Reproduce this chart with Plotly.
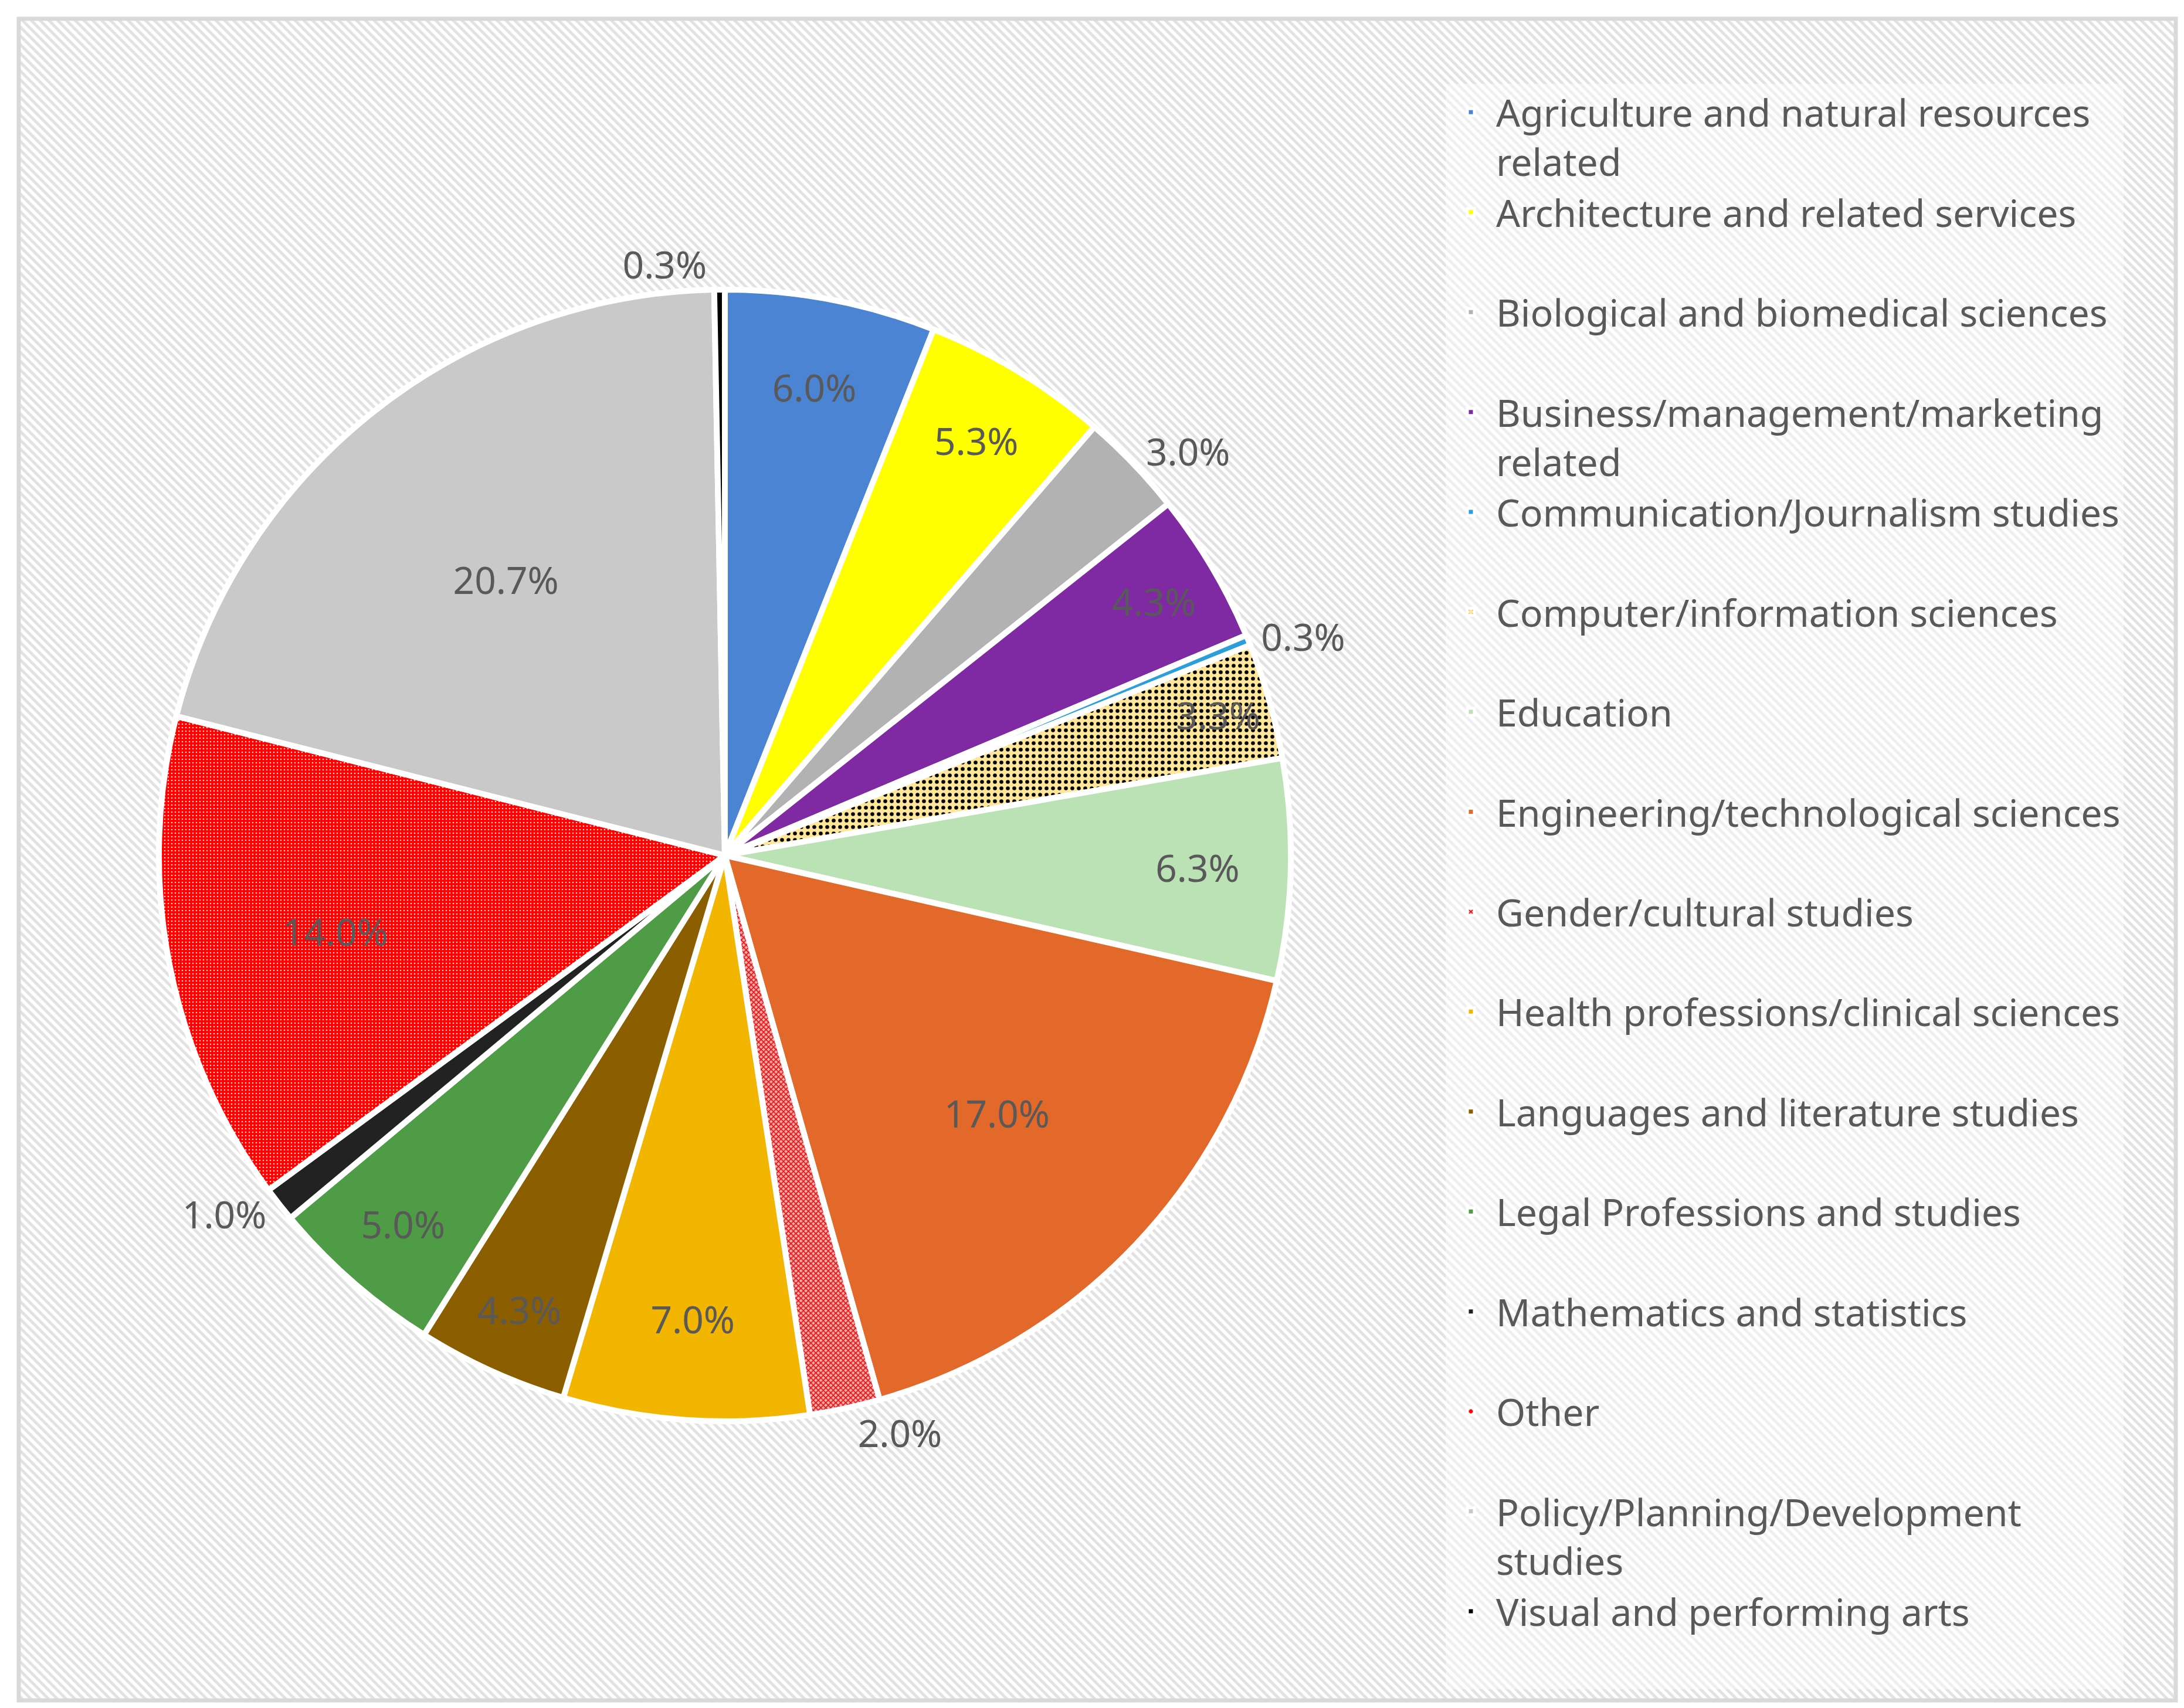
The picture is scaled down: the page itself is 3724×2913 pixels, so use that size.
import base64
import plotly.graph_objects as go

# share of respondents by field of study (percent)
fields = [
    "Agriculture and natural resources<br>related",
    "Architecture and related services",
    "Biological and biomedical sciences",
    "Business/management/marketing<br>related",
    "Communication/Journalism studies",
    "Computer/information sciences",
    "Education",
    "Engineering/technological sciences",
    "Gender/cultural studies",
    "Health professions/clinical sciences",
    "Languages and literature studies",
    "Legal Professions and studies",
    "Mathematics and statistics",
    "Other",
    "Policy/Planning/Development<br>studies",
    "Visual and performing arts",
]
shares = [6.0, 5.3, 3.0, 4.3, 0.3, 3.3, 6.3, 17.0, 2.0, 7.0, 4.3, 5.0, 1.0, 14.0, 20.7, 0.3]

colors = ["#4a84d2", "#ffff00", "#b2b2b2", "#7f2aa3", "#2a9fdc", "#ffe699",
          "#bbe2b5", "#e2692a", "#ff4040", "#f2b600", "#8b5e00", "#4f9c47",
          "#222222", "#ff0000", "#c9c9c9", "#000000"]

W, H = 3724, 2913
GREY = "#595959"
FONT = "Noto Sans, Open Sans, sans-serif"

# every legend entry gets two lines so that the spacing is even, like Excel
legend_names = [f if "<br>" in f else f + "<br>\u00a0" for f in fields]

# which slices get their label outside
text_pos = ["inside", "inside", "outside", "inside", "outside", "inside", "inside",
            "inside", "outside", "inside", "inside", "inside", "outside", "inside",
            "inside", "outside"]

pat_shape = [""] * 16
pat_fg = ["black"] * 16
pat_bg = list(colors)
pat_size = [8] * 16
pat_sol = [0.3] * 16
# computer: black dots on pale yellow
pat_shape[5], pat_fg[5], pat_bg[5], pat_size[5], pat_sol[5] = ".", "black", "#ffe699", 11, 0.28
# gender: fine red check
pat_shape[8], pat_fg[8], pat_bg[8], pat_size[8], pat_sol[8] = "x", "#e01010", "#ffb0b0", 6, 0.5
# other: tiny white dots on red
pat_shape[13], pat_fg[13], pat_bg[13], pat_size[13], pat_sol[13] = ".", "#ffd0d0", "#ff0000", 6, 0.15

fig = go.Figure()
fig.add_trace(go.Pie(
    labels=legend_names,
    values=shares,
    sort=False,
    direction="clockwise",
    rotation=0,
    texttemplate="%{value:.1f}%",
    textposition=text_pos,
    insidetextorientation="horizontal",
    insidetextfont=dict(family=FONT, size=64, color=GREY),
    outsidetextfont=dict(family=FONT, size=64, color=GREY),
    marker=dict(
        colors=colors,
        line=dict(color="white", width=10),
        pattern=dict(shape=pat_shape, fgcolor=pat_fg, bgcolor=pat_bg,
                     size=pat_size, solidity=pat_sol, fillmode="replace"),
    ),
    domain=dict(x=[0.0706, 0.5889], y=[0.1706, 0.8332]),
    hoverinfo="label+percent",
))

# striped chart-area background as an svg pattern
fx0, fy0, fx1, fy1 = 24, 24, 3702, 2892
fw, fh = fx1 - fx0, fy1 - fy0
svg = (
    f"<svg xmlns='http://www.w3.org/2000/svg' width='{fw}' height='{fh}' viewBox='0 0 {fw} {fh}'>"
    "<defs><pattern id='s' width='10.6' height='10.6' patternUnits='userSpaceOnUse' "
    "patternTransform='rotate(-45)'><rect width='5' height='10.6' fill='#e2e2e2'/></pattern></defs>"
    f"<rect width='{fw}' height='{fh}' fill='white'/>"
    f"<rect width='{fw}' height='{fh}' fill='url(#s)'/></svg>"
)
src = "data:image/svg+xml;base64," + base64.b64encode(svg.encode()).decode()

fig.update_layout(
    width=W, height=H,
    margin=dict(l=0, r=0, t=0, b=0),
    paper_bgcolor="white",
    font=dict(family=FONT, color=GREY),
    images=[dict(source=src, xref="paper", yref="paper",
                 x=fx0 / W, y=1 - fy0 / H, sizex=fw / W, sizey=fh / H,
                 xanchor="left", yanchor="top", sizing="stretch", layer="below")],
    shapes=[dict(type="rect", xref="paper", yref="paper",
                 x0=fx0 / W, x1=fx1 / W, y0=1 - fy1 / H, y1=1 - fy0 / H,
                 line=dict(color="#d9d9d9", width=7))],
    legend=dict(
        x=2457 / W, y=1 - 135 / H, xanchor="left", yanchor="top",
        font=dict(family=FONT, size=64.4, color=GREY),
        bgcolor="rgba(255,255,255,0.45)",
        itemwidth=76,
        valign="top",
        traceorder="normal",
    ),
    showlegend=True,
)

fig.write_html("out.html")
